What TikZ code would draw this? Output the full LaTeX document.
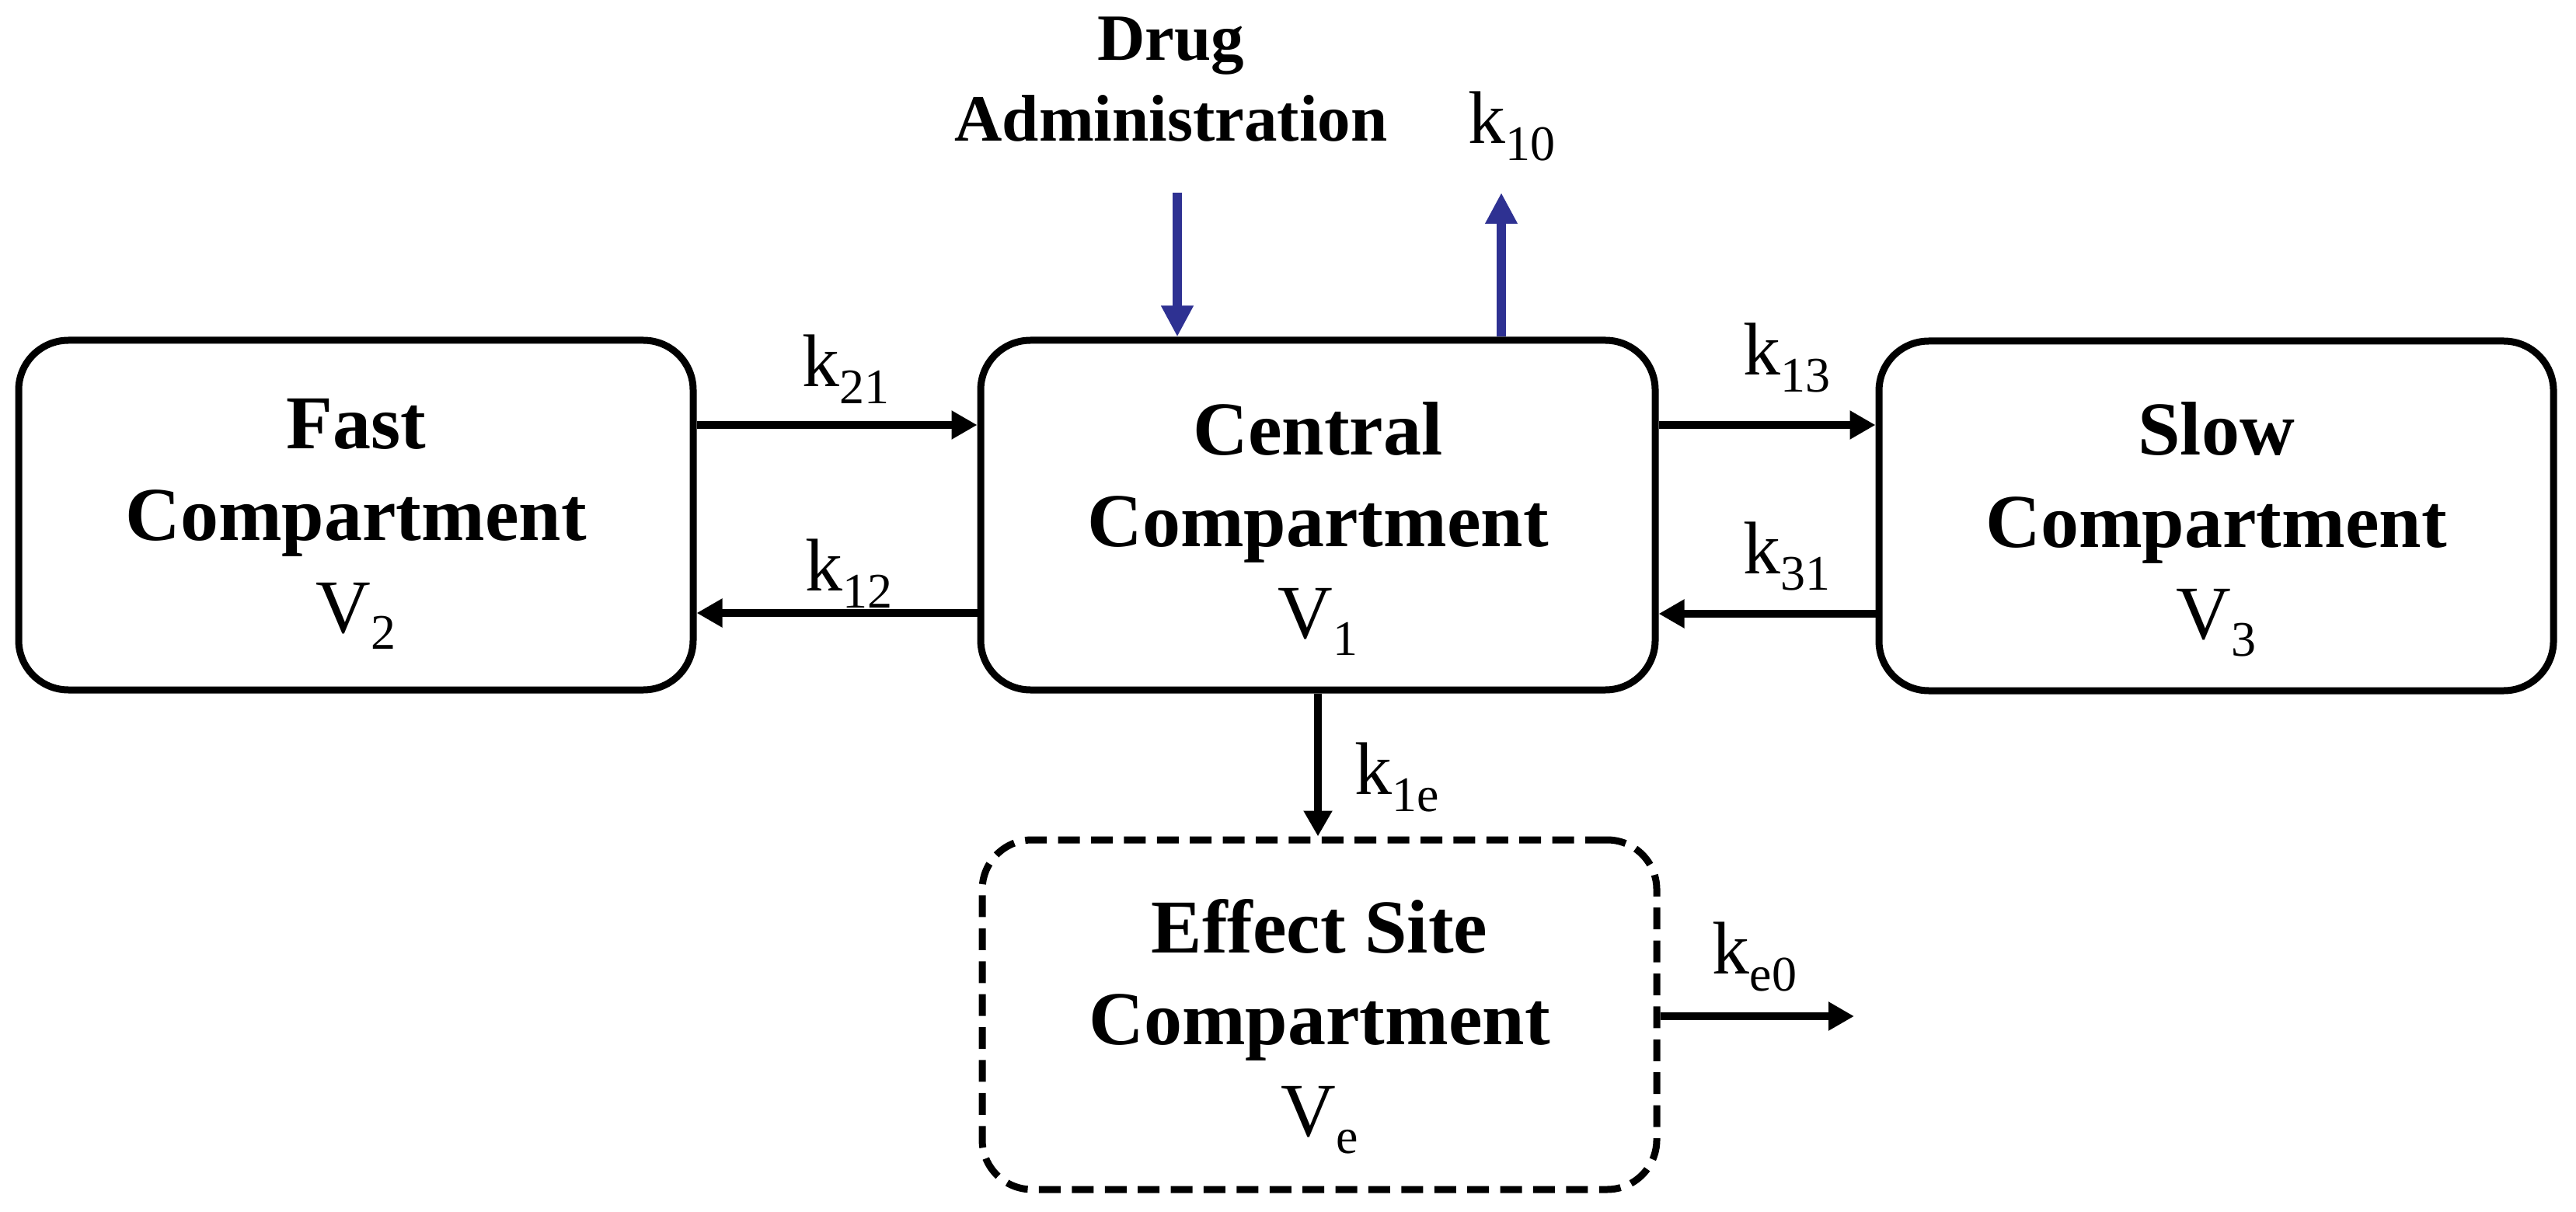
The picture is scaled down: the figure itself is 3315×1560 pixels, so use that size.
\documentclass[tikz,border=0pt]{standalone}
\usepackage{fontspec}
\setmainfont{Liberation Serif}
\usetikzlibrary{arrows.meta}
\definecolor{drugblue}{RGB}{46,49,146}
\newcommand\sbs[1]{\raisebox{-5.5pt}{\fontsize{16pt}{16pt}\selectfont #1}}
\newcommand\boxfont{\fontsize{24.5pt}{29.5pt}\selectfont}
\newcommand\labfont{\fontsize{24pt}{29pt}\selectfont}
\tikzset{
  comp/.style={draw=black, line width=2.25pt, rounded corners=16pt,
    minimum width=217pt, minimum height=112.5pt, inner sep=0pt},
  effbox/.style={comp, dash pattern=on 7pt off 3.6pt},
  ctext/.style={anchor=base, inner sep=0pt, align=center, font=\boxfont},
  arr/.style={line width=2.5pt, -{Triangle[length=8.25pt,width=8.75pt]}},
  barr/.style={draw=drugblue, line width=2.9pt, -{Triangle[length=10pt,width=9.75pt]}},
  klab/.style={anchor=base west, inner sep=0pt, font=\labfont},
}
\begin{document}
\begin{tikzpicture}[x=0.25pt,y=-0.25pt]
\useasboundingbox (0,0) rectangle (3315,1560);
\node[comp] (fast) at (458,663) {};
\node[comp] (central) at (1696,663) {};
\node[comp] (slow) at (2852,664) {};
\node[effbox] (effect) at (1698,1306) {};

\node[ctext] (fasttxt) at (458,814) {\textbf{Fast}\\\textbf{Compartment}\\V\sbs{2}};
\node[ctext] (centraltxt) at (1696,821) {\textbf{Central}\\\textbf{Compartment}\\V\sbs{1}};
\node[ctext] (slowtxt) at (2852,822) {\textbf{Slow}\\\textbf{Compartment}\\V\sbs{3}};
\node[ctext] (effecttxt) at (1698,1462) {\textbf{Effect Site}\\\textbf{Compartment}\\V\sbs{e}};

\node[font=\fontsize{21.25pt}{26pt}\selectfont\bfseries, align=center, anchor=base, inner sep=0pt] (drug) at (1507,182) {Drug\\Administration};

\coordinate (drugin) at (1515,248);
\coordinate (out10) at (1932,248);
\coordinate (oute0) at (2386,1308);

\draw[barr] (drugin) -- (drugin |- central.north);
\draw[barr] (out10 |- central.north) -- (out10);

\draw[arr] ([yshift=29pt]fast.east) -- ([yshift=29pt]fast.east -| central.west);
\draw[arr] ([yshift=-31.5pt]central.west) -- ([yshift=-31.5pt]central.west -| fast.east);
\draw[arr] ([yshift=29pt]central.east) -- ([yshift=29pt]central.east -| slow.west);
\draw[arr] ([yshift=-31.5pt]slow.west) -- ([yshift=-31.5pt]slow.west -| central.east);
\draw[arr] (central.south) -- (central.south |- effect.north);
\draw[arr] (effect.east |- oute0) -- (oute0);

\node[klab] (k21) at (1032,498) {k\sbs{21}};
\node[klab] (k12) at (1036,760) {k\sbs{12}};
\node[klab] (k13) at (2243,483) {k\sbs{13}};
\node[klab] (k31) at (2243,738) {k\sbs{31}};
\node[klab] (k10) at (1889,185) {k\sbs{10}};
\node[klab] (k1e) at (1743,1022) {k\sbs{1e}};
\node[klab] (ke0) at (2203,1253) {k\sbs{e0}};
\end{tikzpicture}
\end{document}
